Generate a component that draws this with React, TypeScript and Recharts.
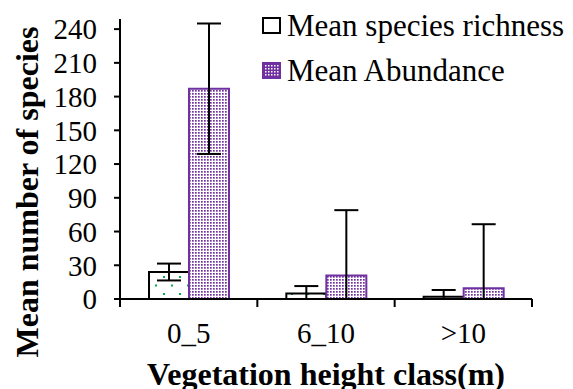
import React from 'react';
import { BarChart, Bar, XAxis, YAxis, ErrorBar, Legend } from 'recharts';

const categories = ['0_5', '6_10', '>10'];
const seriesNames = ['Mean species richness', 'Mean Abundance'];
const richness = [24, 5, 2];
const richnessErr = [7.5, 6.5, 6];
const abundance = [187, 21, 9.5];
const abundanceErr = [58, 58, 57];
const yTicks = [0, 30, 60, 90, 120, 150, 180, 210, 240];

const data = categories.map((c, i) => ({
  cat: c,
  richness: richness[i],
  richErr: [Math.min(richnessErr[i], richness[i]), richnessErr[i]],
  abundance: abundance[i],
  abundErr: [Math.min(abundanceErr[i], abundance[i]), abundanceErr[i]],
}));

const FONT = '"Liberation Serif", "Times New Roman", serif';
const PURPLE = '#7030A0';
const GREEN = '#00B050';

const XTick = (props: any) => {
  const { x, y, payload } = props;
  const off = payload && typeof payload.offset === 'number' ? payload.offset : 0;
  const isLast = payload && payload.index === categories.length - 1;
  return (
    <g>
      {off > 0 && (
        <line x1={x - off} x2={x - off} y1={y} y2={y + 8} stroke="#000" strokeWidth={2} />
      )}
      {off > 0 && isLast && (
        <line x1={x + off} x2={x + off} y1={y} y2={y + 8} stroke="#000" strokeWidth={2} />
      )}
      <text x={x} y={y + 44} textAnchor="middle" fontFamily={FONT} fontSize={29} fill="#000">
        {payload.value}
      </text>
    </g>
  );
};

const YLabel = () => (
  <text
    transform="translate(38,192) rotate(-90)"
    x={0}
    y={0}
    textAnchor="middle"
    fontFamily={FONT}
    fontWeight="bold"
    fontSize={32}
    fill="#000"
  >
    Mean number of species
  </text>
);

const XLabel = (props: any) => {
  const vb = props.viewBox || { x: 120, width: 412, y: 299 };
  return (
    <text
      x={vb.x + vb.width / 2}
      y={385}
      textAnchor="middle"
      fontFamily={FONT}
      fontWeight="bold"
      fontSize={32}
      fill="#000"
    >
      Vegetation height class(m)
    </text>
  );
};

const LegendContent = () => (
  <div style={{ fontFamily: FONT, fontSize: 31, color: '#000' }}>
    {seriesNames.map((name, i) => (
      <div key={i} style={{ display: 'flex', alignItems: 'center', height: 45, whiteSpace: 'nowrap' }}>
        <svg width={20} height={17} style={{ marginRight: 5 }}>
          <defs>
            <pattern id={`lg${i}`} width={3} height={3} patternUnits="userSpaceOnUse">
              <rect width={3} height={3} fill={PURPLE} />
              <rect width={1.5} height={1.5} fill="#fff" />
            </pattern>
          </defs>
          <rect
            x={1}
            y={1}
            width={17}
            height={15}
            fill={i === 0 ? '#fff' : `url(#lg${i})`}
            stroke={i === 0 ? '#000' : PURPLE}
            strokeWidth={2}
          />
        </svg>
        <span>{name}</span>
      </div>
    ))}
  </div>
);

export default function App() {
  return (
    <div style={{ position: 'fixed', left: 0, top: 0, width: 573, height: 389, background: '#fff' }}>
      <BarChart
        width={573}
        height={389}
        data={data}
        margin={{ top: 19, right: 41, bottom: 0, left: 0 }}
        barGap={0}
      >
        <defs>
          <pattern id="richPat" width={16} height={17} patternUnits="userSpaceOnUse">
            <rect width={16} height={17} fill="#fff" />
            <rect x={3} y={4} width={2} height={2} fill={GREEN} />
            <rect x={11} y={12.5} width={2} height={2} fill={GREEN} />
          </pattern>
          <pattern id="abPat" width={3} height={3} patternUnits="userSpaceOnUse">
            <rect width={3} height={3} fill="#fff" />
            <rect width={1.7} height={1.7} fill={PURPLE} />
          </pattern>
        </defs>
        <XAxis
          dataKey="cat"
          height={90}
          axisLine={{ stroke: '#000', strokeWidth: 2 }}
          tickLine={false}
          tickSize={0}
          tickMargin={0}
          tick={<XTick />}
          interval={0}
          label={<XLabel />}
        />
        <YAxis
          width={120}
          domain={[0, 249]}
          ticks={yTicks}
          interval={0}
          axisLine={{ stroke: '#000', strokeWidth: 2 }}
          tickLine={{ stroke: '#000', strokeWidth: 2 }}
          tickSize={6}
          tickMargin={17}
          tick={{ fontFamily: FONT, fontSize: 29, fill: '#000' }}
          label={<YLabel />}
        />
        <Legend
          layout="vertical"
          align="center"
          verticalAlign="middle"
          wrapperStyle={{ left: 262, top: 3, width: 320 }}
          content={<LegendContent />}
        />
        <Bar
          dataKey="richness"
          name={seriesNames[0]}
          fill="url(#richPat)"
          stroke="#000"
          strokeWidth={2}
          barSize={40}
          isAnimationActive={false}
        >
          <ErrorBar dataKey="richErr" width={12} stroke="#000" strokeWidth={2} />
        </Bar>
        <Bar
          dataKey="abundance"
          name={seriesNames[1]}
          fill="url(#abPat)"
          stroke={PURPLE}
          strokeWidth={2}
          barSize={40}
          isAnimationActive={false}
        >
          <ErrorBar dataKey="abundErr" width={12} stroke="#000" strokeWidth={2} />
        </Bar>
      </BarChart>
    </div>
  );
}
